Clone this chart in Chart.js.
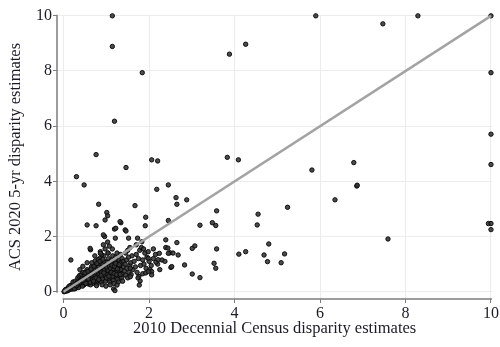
<!DOCTYPE html>
<html>
<head>
<meta charset="utf-8">
<script src="https://cdn.jsdelivr.net/npm/chart.js@4"></script>
<style>
	html, body { margin: 0; padding: 0; background: #fff; }
	#wrap { width: 500px; height: 347px; }
</style>
</head>
<body>
<div id="wrap"><canvas id="scatterChart" width="500" height="347"></canvas></div>
<script>
// tick labels
const xTicks = [0, 2, 4, 6, 8, 10];
const yTicks = [0, 2, 4, 6, 8, 10];

// 45 degree reference line
const fitLine = [[0, 0], [10, 10]];

// points far from the cluster [census 2010, acs 2020]
const farPoints = [
	[1.14, 10.0], [1.14, 8.89], [1.84, 7.94], [1.19, 6.18], [0.76, 4.97], [3.88, 8.61], [4.26, 8.97],
	[5.90, 10.0], [7.47, 9.71], [8.29, 10.0], [10.0, 10.0], [10.0, 7.94], [10.0, 5.71], [10.0, 4.61],
	[5.81, 4.41], [6.79, 4.68], [6.86, 3.83], [6.87, 3.86], [6.35, 3.33], [5.24, 3.06], [7.59, 1.91],
	[9.94, 2.47], [10.0, 2.47], [10.0, 2.25], [5.17, 1.37], [5.09, 1.05],
];

// middle range points
const midPoints = [
	[3.19, 2.41], [3.56, 2.40], [4.53, 2.42], [2.65, 1.78], [2.49, 1.41], [2.68, 1.33], [2.51, 0.88],
	[2.83, 0.97], [3.01, 1.57], [3.07, 1.66], [3.58, 1.55], [3.52, 1.03], [3.56, 0.85], [3.01, 0.64],
	[3.19, 0.51], [4.10, 1.36], [4.26, 1.45], [4.80, 1.73], [4.69, 1.33], [4.77, 1.09], [3.83, 4.87],
	[4.09, 4.78], [2.63, 3.41], [2.65, 3.17], [2.88, 3.33], [3.58, 2.93], [4.55, 2.81], [3.48, 2.50],
	[1.46, 4.50], [2.06, 4.78], [2.20, 4.74], [0.30, 4.17], [0.48, 3.87], [2.45, 3.87], [2.18, 3.71],
	[0.82, 3.17], [1.67, 3.12], [1.01, 2.87], [1.03, 2.75], [0.97, 2.60], [1.34, 2.50], [1.92, 2.70],
	[1.91, 2.39], [0.76, 2.39], [1.19, 2.27], [2.45, 2.58], [1.44, 2.24], [1.46, 2.20], [1.22, 2.30],
	[2.39, 1.60], [2.45, 1.39], [2.53, 0.91], [2.39, 1.88], [2.24, 1.39], [2.16, 1.07], [2.06, 0.73],
	[1.98, 1.21], [1.87, 1.55], [1.83, 1.81], [1.73, 1.94], [2.10, 1.55], [2.06, 0.61], [1.98, 0.73],
	[0.17, 1.15], [0.55, 2.42], [0.93, 2.06], [1.32, 2.54], [1.52, 1.94], [1.21, 1.94], [0.62, 1.57],
	[0.86, 1.39], [1.25, 0.24], [1.77, 0.24], [1.79, 0.39], [1.56, 0.54], [1.56, 0.85], [2.44, 1.58],
	[2.56, 1.40], [2.37, 1.10], [2.21, 1.16], [1.74, 0.50],
];

// dense cluster near the origin
const lowPoints = [
	[0.02, 0.01], [0.03, 0.03], [0.05, 0.02], [0.04, 0.06], [0.06, 0.04], [0.08, 0.05], [0.07, 0.09],
	[0.09, 0.03], [0.10, 0.08], [0.10, 0.12], [0.01, 0.00], [0.05, 0.08],
	[0.12, 0.06], [0.13, 0.10], [0.14, 0.15], [0.15, 0.09], [0.16, 0.12], [0.17, 0.20], [0.18, 0.10],
	[0.19, 0.16], [0.20, 0.13], [0.12, 0.18], [0.15, 0.22], [0.20, 0.25],
	[0.21, 0.10], [0.22, 0.17], [0.23, 0.20], [0.24, 0.14], [0.25, 0.28], [0.26, 0.19], [0.27, 0.23],
	[0.28, 0.12], [0.29, 0.30], [0.30, 0.20], [0.22, 0.35], [0.27, 0.38], [0.30, 0.16], [0.25, 0.10],
	[0.31, 0.25], [0.32, 0.33], [0.33, 0.18], [0.34, 0.40], [0.35, 0.27], [0.36, 0.22], [0.37, 0.35],
	[0.38, 0.30], [0.39, 0.45], [0.40, 0.26], [0.33, 0.50], [0.36, 0.55], [0.40, 0.38], [0.35, 0.15],
	[0.38, 0.60],
	[0.41, 0.32], [0.42, 0.44], [0.43, 0.28], [0.44, 0.50], [0.45, 0.36], [0.46, 0.30], [0.47, 0.42],
	[0.48, 0.55], [0.49, 0.35], [0.50, 0.47], [0.42, 0.62], [0.45, 0.70], [0.48, 0.25], [0.50, 0.60],
	[0.44, 0.20],
	[0.51, 0.38], [0.52, 0.50], [0.53, 0.42], [0.54, 0.33], [0.55, 0.56], [0.56, 0.45], [0.57, 0.40],
	[0.58, 0.62], [0.59, 0.36], [0.60, 0.50], [0.52, 0.72], [0.55, 0.80], [0.58, 0.28], [0.60, 0.70],
	[0.54, 0.66],
	[0.61, 0.44], [0.62, 0.55], [0.63, 0.40], [0.64, 0.60], [0.65, 0.48], [0.66, 0.35], [0.67, 0.52],
	[0.68, 0.65], [0.69, 0.45], [0.70, 0.58], [0.62, 0.78], [0.65, 0.90], [0.68, 0.30], [0.70, 0.72],
	[0.66, 1.05], [0.63, 0.25],
	[0.71, 0.50], [0.72, 0.62], [0.73, 0.45], [0.74, 0.70], [0.75, 0.55], [0.76, 0.40], [0.77, 0.60],
	[0.78, 0.75], [0.79, 0.50], [0.80, 0.65], [0.72, 0.85], [0.75, 0.95], [0.78, 0.30], [0.80, 0.82],
	[0.74, 1.12], [0.77, 0.22], [0.73, 1.30],
	[0.81, 0.55], [0.82, 0.68], [0.83, 0.48], [0.84, 0.75], [0.85, 0.60], [0.86, 0.42], [0.87, 0.70],
	[0.88, 0.82], [0.89, 0.52], [0.90, 0.66], [0.82, 0.92], [0.85, 1.02], [0.88, 0.35], [0.90, 0.90],
	[0.84, 1.20], [0.86, 1.45], [0.90, 0.25],
	[0.91, 0.58], [0.92, 0.72], [0.93, 0.50], [0.94, 0.80], [0.95, 0.64], [0.96, 0.45], [0.97, 0.75],
	[0.98, 0.88], [0.99, 0.55], [1.00, 0.70], [0.92, 1.00], [0.95, 1.10], [0.98, 0.38], [1.00, 0.95],
	[0.94, 1.30], [0.97, 1.55], [0.99, 0.20], [0.93, 1.70], [0.96, 2.00],
	[1.01, 0.60], [1.02, 0.78], [1.03, 0.52], [1.04, 0.85], [1.05, 0.68], [1.06, 0.45], [1.07, 0.80],
	[1.08, 0.95], [1.09, 0.58], [1.10, 0.72], [1.02, 1.08], [1.05, 1.20], [1.08, 0.35], [1.10, 1.00],
	[1.04, 1.40], [1.07, 1.65], [1.09, 0.25], [1.03, 1.80],
	[1.11, 0.62], [1.12, 0.80], [1.13, 0.50], [1.14, 0.90], [1.15, 0.70], [1.16, 0.42], [1.17, 0.85],
	[1.18, 1.00], [1.19, 0.60], [1.20, 0.75], [1.12, 1.15], [1.15, 1.30], [1.18, 0.30], [1.20, 1.05],
	[1.14, 1.55], [1.17, 0.10], [1.20, 0.04],
	[1.21, 0.65], [1.22, 0.85], [1.23, 0.52], [1.24, 0.95], [1.25, 0.72], [1.26, 0.45], [1.27, 0.90],
	[1.28, 1.10], [1.29, 0.60], [1.30, 0.80], [1.22, 1.25], [1.25, 1.40], [1.28, 0.35], [1.30, 1.15],
	[1.31, 0.70], [1.32, 0.95], [1.33, 0.55], [1.34, 1.05], [1.35, 0.80], [1.36, 0.50], [1.37, 1.20],
	[1.38, 0.65], [1.40, 0.90], [1.33, 1.35], [1.38, 0.38], [1.40, 1.10],
	[1.42, 0.75], [1.44, 1.00], [1.45, 0.60], [1.47, 1.15], [1.48, 0.85], [1.50, 0.50], [1.52, 1.25],
	[1.53, 0.70], [1.55, 0.95], [1.57, 1.05], [1.58, 0.62], [1.60, 1.30], [1.45, 1.40], [1.50, 1.50],
	[1.55, 1.60],
	[1.62, 0.80], [1.65, 1.10], [1.68, 0.90], [1.70, 1.35], [1.72, 0.70], [1.75, 1.20], [1.78, 1.50],
	[1.80, 0.95], [1.82, 1.60], [1.85, 1.15], [1.88, 1.00], [1.90, 1.40], [1.93, 0.85], [1.95, 1.25],
	[1.98, 1.45], [2.00, 1.10], [1.70, 1.70], [1.76, 0.55], [1.85, 0.65], [1.92, 0.68], [2.02, 0.80],
	[2.05, 0.95], [2.10, 1.20], [2.15, 1.35], [2.20, 1.00], [2.25, 0.80], [2.30, 1.15],
	[0.63, 1.52], [0.81, 1.16], [0.89, 1.34], [1.04, 1.40], [0.38, 0.80], [0.45, 0.92], [0.55, 1.05],
	// extra fill of the darkest band just under the line
	[0.30, 0.22], [0.34, 0.28], [0.39, 0.33], [0.43, 0.38], [0.47, 0.34], [0.51, 0.43], [0.56, 0.52],
	[0.60, 0.44], [0.64, 0.53], [0.67, 0.60], [0.71, 0.66], [0.74, 0.58], [0.77, 0.68], [0.80, 0.72],
	[0.83, 0.62], [0.86, 0.78], [0.89, 0.70], [0.92, 0.85], [0.95, 0.76], [0.98, 0.66], [1.01, 0.88],
	[1.04, 0.76], [1.07, 0.92], [1.10, 0.84], [1.13, 0.96], [1.16, 0.78], [1.19, 0.92], [1.22, 1.02],
	[1.26, 0.82], [1.30, 0.98], [0.66, 0.42], [0.72, 0.48], [0.79, 0.40], [0.84, 0.52], [0.91, 0.48],
	[0.97, 0.58], [1.03, 0.62], [1.09, 0.66], [1.15, 0.56], [1.21, 0.70], [0.55, 0.36], [0.62, 0.34],
	[0.46, 0.40], [0.52, 0.30], [0.58, 0.46], [0.70, 0.38], [0.76, 0.50], [0.82, 0.44], [0.88, 0.60],
	[0.94, 0.68], [1.00, 0.50], [1.06, 0.56], [1.12, 0.70], [1.18, 0.66], [1.24, 0.62], [1.32, 0.62],
	[0.50, 0.68], [0.57, 0.74], [0.64, 0.82], [0.71, 0.92], [0.78, 1.02], [0.85, 1.10], [0.92, 1.18],
];

const toXY = (pairs) => pairs.map((p) => ({ x: p[0], y: p[1] }));

// Stata-style axis lines that only span the data range
const axisLines = {
	id: 'axisLines',
	beforeDatasetsDraw(chart) {
		const {
			ctx,
			chartArea: { left, bottom },
			scales: { x, y },
		} = chart;
		ctx.save();
		ctx.strokeStyle = '#7d7d7d';
		ctx.lineWidth = 1.5;
		ctx.beginPath();
		ctx.moveTo(left, y.getPixelForValue(yTicks[yTicks.length - 1]) - 1);
		ctx.lineTo(left, y.getPixelForValue(yTicks[0]) + 1);
		ctx.moveTo(x.getPixelForValue(xTicks[0]) - 1, bottom);
		ctx.lineTo(x.getPixelForValue(xTicks[xTicks.length - 1]) + 1, bottom);
		ctx.stroke();
		ctx.restore();
	},
};

const serif = "'Liberation Serif', 'Times New Roman', serif";

const chartConfig = {
	type: 'scatter',
	data: {
		datasets: [
			{
				type: 'line',
				data: toXY(fitLine),
				borderColor: '#a3a3a3',
				borderWidth: 2.5,
				pointRadius: 0,
				order: 0,
			},
			{
				data: toXY([...lowPoints, ...midPoints, ...farPoints]),
				backgroundColor: 'rgba(55, 55, 55, 0.9)',
				borderColor: 'rgba(10, 10, 10, 0.95)',
				borderWidth: 1,
				pointRadius: 2.2,
				clip: false,
				order: 1,
			},
		],
	},
	options: {
		responsive: false,
		animation: false,
		layout: {
			autoPadding: false,
			padding: { top: 15, right: 7, left: 0, bottom: 0 },
		},
		plugins: {
			legend: { display: false },
			tooltip: { enabled: false },
		},
		scales: {
			x: {
				type: 'linear',
				min: -0.155,
				max: 10.03,
				afterBuildTicks: (s) => { s.ticks = xTicks.map((v) => ({ value: v })); },
				afterFit: (s) => { s.height = 48; },
				border: { display: false },
				grid: { color: '#ececec', tickColor: '#7d7d7d', tickLength: 4, tickWidth: 1 },
				ticks: { color: '#1c1c28', padding: 1, maxRotation: 0, font: { family: serif, size: 16 } },
				title: {
					display: true,
					text: '2010 Decennial Census disparity estimates',
					color: '#1c1c28',
					padding: { top: 0, bottom: 8 },
					font: { family: serif, size: 16.5 },
				},
			},
			y: {
				type: 'linear',
				min: -0.265,
				max: 10.03,
				afterBuildTicks: (s) => { s.ticks = yTicks.map((v) => ({ value: v })); },
				afterFit: (s) => { s.width = 57; },
				border: { display: false },
				grid: { color: '#ececec', tickColor: '#7d7d7d', tickLength: 4, tickWidth: 1 },
				ticks: { color: '#1c1c28', padding: 1, font: { family: serif, size: 16 } },
				title: {
					display: true,
					text: 'ACS 2020 5-yr disparity estimates',
					color: '#1c1c28',
					padding: { top: 6, bottom: 0 },
					font: { family: serif, size: 16.5 },
				},
			},
		},
	},
	plugins: [axisLines],
};

const ctx = document.getElementById('scatterChart');
const scatterChart = new Chart(ctx, chartConfig);
</script>
</body>
</html>
